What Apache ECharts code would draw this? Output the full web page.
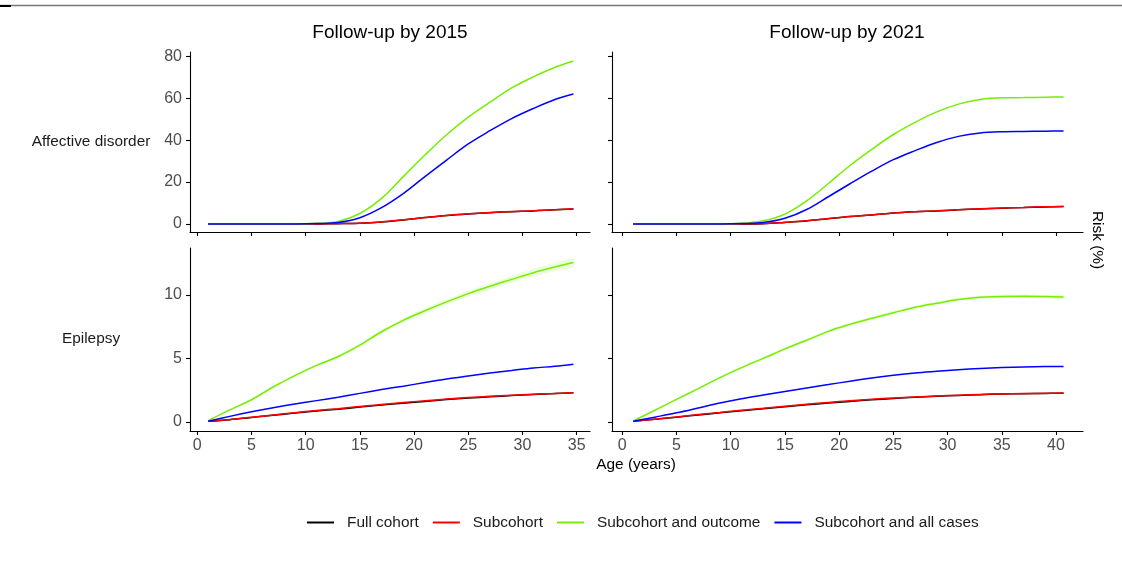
<!DOCTYPE html>
<html>
<head>
<meta charset="utf-8">
<script src="https://cdn.jsdelivr.net/npm/echarts@6/dist/echarts.min.js"></script>
<style>
html,body{margin:0;padding:0;background:#fff;}
#chart{width:1122px;height:571px;}
</style>
</head>
<body>
<div id="chart"></div>
<script>
// ---- data ----
const seriesNames = ['Full cohort', 'Subcohort', 'Subcohort and outcome', 'Subcohort and all cases'];
const columnTitles = ['Follow-up by 2015', 'Follow-up by 2021'];
const rowTitles = ['Affective disorder', 'Epilepsy'];
const xTicksL = [0, 5, 10, 15, 20, 25, 30, 35];
const xTicksR = [0, 5, 10, 15, 20, 25, 30, 35, 40];
const yTicksAff = [0, 20, 40, 60, 80];
const yTicksEpi = [0, 5, 10];

const agesL = [1, 3, 5, 7, 9, 11, 13, 15, 17, 19, 21, 23, 25, 27, 29, 31, 33, 34.7];
const agesR = [1, 3, 5, 7, 9, 11, 13, 15, 17, 19, 21, 23, 25, 27, 29, 31, 33, 35, 37, 39, 40.7];

const aff2015Full = [0,0,0,0,0,0.03,0.15,0.35,0.95,1.95,3.05,4.05,4.8,5.4,5.9,6.25,6.8,7.15];
const aff2015Sub  = [0,0,0,0,0,0.05,0.2,0.4,1.0,2.0,3.1,4.1,4.85,5.45,5.95,6.3,6.85,7.2];
const aff2015Out  = [0,0,0,0,0.05,0.3,1.2,5.0,12.2,22.6,32.9,42.6,51.0,58.1,64.9,70.2,74.8,77.8];
const aff2015All  = [0,0,0,0,0.02,0.2,0.7,3.0,7.8,14.5,22.6,30.5,38.2,44.5,50.3,55.1,59.4,62.0];

const aff2021Full = [0,0,0,0,0,0.03,0.15,0.75,1.45,2.55,3.55,4.25,5.25,5.85,6.25,6.75,7.2,7.55,7.85,8.15,8.35];
const aff2021Sub  = [0,0,0,0,0,0.05,0.2,0.8,1.5,2.6,3.6,4.3,5.3,5.9,6.3,6.8,7.25,7.6,7.9,8.2,8.4];
const aff2021Out  = [0,0,0,0,0.05,0.3,1.5,4.7,11.0,19.3,27.9,35.6,42.7,48.5,53.5,57.2,59.4,60.2,60.3,60.5,60.6];
const aff2021All  = [0,0,0,0,0.02,0.2,0.7,2.7,6.9,13.0,19.2,25.2,30.7,35.0,38.9,41.8,43.4,44.0,44.15,44.3,44.4];

const epi2015Full  = [0.05,0.18,0.36,0.53,0.7,0.86,1.01,1.17,1.33,1.48,1.62,1.76,1.88,1.98,2.08,2.17,2.24,2.3];
const epi2015Sub   = [0.05,0.19,0.37,0.55,0.73,0.9,1.05,1.22,1.38,1.53,1.67,1.8,1.92,2.02,2.11,2.19,2.25,2.3];
const epi2015Out   = [0.1,0.95,1.75,2.75,3.65,4.45,5.15,6.05,7.1,8.0,8.75,9.45,10.1,10.68,11.22,11.75,12.2,12.55];
const epi2015OutCI = [0.02,0.05,0.06,0.08,0.09,0.1,0.12,0.13,0.15,0.17,0.19,0.21,0.23,0.25,0.27,0.3,0.32,0.35];
const epi2015All   = [0.05,0.44,0.8,1.12,1.41,1.68,1.95,2.25,2.55,2.82,3.1,3.38,3.62,3.85,4.05,4.25,4.38,4.55];

const epi2021Full  = [0.05,0.21,0.38,0.55,0.72,0.88,1.04,1.2,1.35,1.49,1.62,1.74,1.85,1.94,2.02,2.09,2.15,2.2,2.23,2.25,2.27];
const epi2021Sub   = [0.05,0.22,0.4,0.58,0.75,0.92,1.08,1.24,1.4,1.54,1.67,1.79,1.89,1.97,2.05,2.11,2.17,2.21,2.24,2.26,2.28];
const epi2021Out   = [0.08,0.92,1.78,2.62,3.49,4.28,5.0,5.75,6.43,7.13,7.68,8.16,8.59,9.02,9.34,9.64,9.82,9.88,9.89,9.87,9.84];
const epi2021OutCI = [0.02,0.05,0.06,0.08,0.09,0.1,0.11,0.12,0.12,0.13,0.13,0.13,0.14,0.14,0.14,0.14,0.14,0.14,0.14,0.14,0.15];
const epi2021All   = [0.05,0.38,0.72,1.1,1.49,1.83,2.12,2.4,2.67,2.94,3.21,3.46,3.68,3.86,3.99,4.11,4.21,4.28,4.33,4.36,4.37];

// ---- chart ----
const FONT = 'Liberation Sans, Arial, Helvetica, sans-serif';
const colors = ['#000000', '#ff0000', '#76ee00', '#0000ff'];
const zip = (xs, ys) => xs.map((x, i) => [x, ys[i]]);

const grids = [
  {left: 190, top: 52, width: 400, height: 180},
  {left: 612, top: 52, width: 471, height: 180},
  {left: 190, top: 248, width: 400, height: 183},
  {left: 612, top: 248, width: 471, height: 183}
];
const xRanges = [[-0.67, 36.23], [-0.95, 42.49], [-0.67, 36.23], [-0.95, 42.49]];
const yRanges = [[-3.82, 82.06], [-3.82, 82.06], [-0.71, 13.69], [-0.71, 13.69]];

const xAxes = grids.map((g, i) => {
  const ticks = (i % 2 === 0) ? xTicksL : xTicksR;
  return {
    type: 'value', gridIndex: i, min: xRanges[i][0], max: xRanges[i][1],
    axisLine: {show: true, onZero: false, lineStyle: {color: '#000', width: 1.1}},
    axisTick: {show: true, customValues: ticks, length: 4, lineStyle: {color: '#000', width: 1.1}},
    axisLabel: {show: i >= 2, customValues: ticks, color: '#4d4d4d', fontSize: 16, fontFamily: FONT, margin: 7},
    splitLine: {show: false}
  };
});
const yAxes = grids.map((g, i) => {
  const ticks = (i < 2) ? yTicksAff : yTicksEpi;
  return {
    type: 'value', gridIndex: i, min: yRanges[i][0], max: yRanges[i][1],
    axisLine: {show: true, onZero: false, lineStyle: {color: '#000', width: 1.1}},
    axisTick: {show: true, customValues: ticks, length: 4, lineStyle: {color: '#000', width: 1.1}},
    axisLabel: {show: i % 2 === 0, customValues: ticks, color: '#4d4d4d', fontSize: 16, fontFamily: FONT, margin: 8},
    splitLine: {show: false}
  };
});

const panels = [
  {ages: agesL, vals: [aff2015Full, aff2015Sub, aff2015Out, aff2015All]},
  {ages: agesR, vals: [aff2021Full, aff2021Sub, aff2021Out, aff2021All]},
  {ages: agesL, vals: [epi2015Full, epi2015Sub, epi2015Out, epi2015All], ci: epi2015OutCI},
  {ages: agesR, vals: [epi2021Full, epi2021Sub, epi2021Out, epi2021All], ci: epi2021OutCI}
];

const series = [];
panels.forEach((p, pi) => {
  if (p.ci) {
    const mid = p.vals[2];
    const ages = p.ages;
    const ci = p.ci;
    series.push({
      type: 'custom', name: 'ciBand' + pi, xAxisIndex: pi, yAxisIndex: pi,
      data: [[ages[0], mid[0]]], silent: true, z: 1,
      renderItem: function (params, api) {
        const pts = [];
        for (let i = 0; i < ages.length; i++) pts.push(api.coord([ages[i], mid[i] + ci[i]]));
        for (let i = ages.length - 1; i >= 0; i--) pts.push(api.coord([ages[i], mid[i] - ci[i]]));
        return {type: 'polygon', shape: {points: pts, smooth: 0.3}, style: {fill: 'rgba(118,238,0,0.14)', stroke: null}};
      }
    });
  }
  p.vals.forEach((v, si) => {
    series.push({
      type: 'line', name: seriesNames[si], xAxisIndex: pi, yAxisIndex: pi,
      data: zip(p.ages, v), symbol: 'none', smooth: 0.35,
      lineStyle: {color: colors[si], width: 1.5}, itemStyle: {color: colors[si]},
      z: 2 + si, silent: true
    });
  });
});

const chart = echarts.init(document.getElementById('chart'), null, {renderer: 'canvas'});
chart.setOption({
  backgroundColor: '#ffffff',
  animation: false,
  grid: grids,
  xAxis: xAxes,
  yAxis: yAxes,
  series: series,
  legend: {
    data: seriesNames,
    left: 302, top: 510,
    icon: 'rect', itemWidth: 27, itemHeight: 2, itemGap: 14,
    textStyle: {fontSize: 15.4, fontFamily: FONT, color: '#1a1a1a', padding: [0, 0, 0, 8]},
    selectedMode: false
  },
  graphic: [
    {type: 'line', shape: {x1: 0, y1: 5.5, x2: 1122, y2: 5.5}, style: {stroke: '#777', lineWidth: 1.5}},
    {type: 'rect', shape: {x: 0, y: 5, width: 11, height: 2}, style: {fill: '#000'}},
    {type: 'text', x: 390, y: 33, style: {text: columnTitles[0], font: '19px ' + FONT, fill: '#000', align: 'center', verticalAlign: 'middle'}},
    {type: 'text', x: 847, y: 33, style: {text: columnTitles[1], font: '19px ' + FONT, fill: '#000', align: 'center', verticalAlign: 'middle'}},
    {type: 'text', x: 91, y: 142, style: {text: rowTitles[0], font: '15.4px ' + FONT, fill: '#1a1a1a', align: 'center', verticalAlign: 'middle'}},
    {type: 'text', x: 91, y: 339, style: {text: rowTitles[1], font: '15.4px ' + FONT, fill: '#1a1a1a', align: 'center', verticalAlign: 'middle'}},
    {type: 'text', x: 636, y: 465, style: {text: 'Age (years)', font: '15.4px ' + FONT, fill: '#000', align: 'center', verticalAlign: 'middle'}},
    {type: 'text', x: 1097, y: 240, rotation: -Math.PI / 2, style: {text: 'Risk (%)', font: '15.4px ' + FONT, fill: '#000', align: 'center', verticalAlign: 'middle'}}
  ]
});
</script>
</body>
</html>
